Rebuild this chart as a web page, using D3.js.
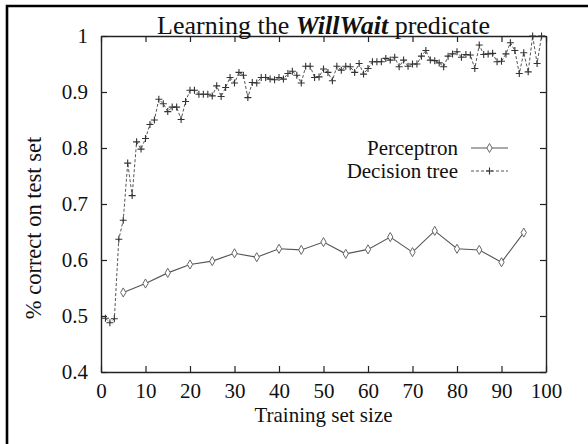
<!DOCTYPE html>
<html lang="en">
<head>
<meta charset="UTF-8">
<script src="https://cdn.jsdelivr.net/npm/d3@7"></script>
<title>Learning the WillWait predicate</title>
<style>
  body { margin: 0; background: #fff; }
  text { font-family: "Liberation Serif", "DejaVu Serif", serif; fill: #111; }
</style>
</head>
<body>
<script>
// training set sizes and accuracies
var percSizes = [5, 10, 15, 20, 25, 30, 35, 40, 45, 50, 55, 60, 65, 70, 75, 80, 85, 90, 95];
var percValues = [0.542, 0.558, 0.577, 0.592, 0.598, 0.612, 0.605, 0.620, 0.618, 0.632,
                  0.611, 0.619, 0.641, 0.614, 0.652, 0.620, 0.618, 0.596, 0.649];

var treeSizes = [1, 2, 3, 4, 5, 6, 7, 8, 9, 10, 11, 12, 13, 14, 15, 16, 17, 18, 19, 20,
                 21, 22, 23, 24, 25, 26, 27, 28, 29, 30, 31, 32, 33, 34, 35, 36, 37, 38, 39, 40,
                 41, 42, 43, 44, 45, 46, 47, 48, 49, 50, 51, 52, 53, 54, 55, 56, 57, 58, 59, 60,
                 61, 62, 63, 64, 65, 66, 67, 68, 69, 70, 71, 72, 73, 74, 75, 76, 77, 78, 79, 80,
                 81, 82, 83, 84, 85, 86, 87, 88, 89, 90, 91, 92, 93, 94, 95, 96, 97, 98, 99];
var treeValues = [0.496, 0.488, 0.495, 0.637, 0.671, 0.773, 0.715, 0.811, 0.798, 0.817,
                  0.842, 0.850, 0.887, 0.879, 0.865, 0.873, 0.873, 0.851, 0.883, 0.903,
                  0.903, 0.896, 0.896, 0.896, 0.893, 0.911, 0.892, 0.908, 0.926, 0.916,
                  0.935, 0.930, 0.890, 0.917, 0.916, 0.926, 0.926, 0.923, 0.922, 0.926,
                  0.923, 0.933, 0.937, 0.930, 0.916, 0.946, 0.946, 0.926, 0.927, 0.941,
                  0.935, 0.920, 0.946, 0.939, 0.946, 0.945, 0.935, 0.951, 0.932, 0.942,
                  0.954, 0.954, 0.954, 0.960, 0.957, 0.962, 0.945, 0.957, 0.946, 0.950,
                  0.950, 0.964, 0.974, 0.957, 0.956, 0.952, 0.945, 0.964, 0.968, 0.972,
                  0.962, 0.967, 0.966, 0.942, 0.984, 0.967, 0.968, 0.969, 0.954, 0.955,
                  0.968, 0.988, 0.974, 0.933, 0.970, 0.936, 1.000, 0.951, 1.000];

var xTicks = [0, 10, 20, 30, 40, 50, 60, 70, 80, 90, 100];
var yTicks = [0.4, 0.5, 0.6, 0.7, 0.8, 0.9, 1];
var seriesNames = ["Perceptron", "Decision tree"];

var w = 588, h = 444;
var plotL = 101, plotR = 546, plotT = 36, plotB = 372;

var svg = d3.select("body").append("svg")
    .attr("width", w)
    .attr("height", h);

// outer frame (only top and left edges show)
svg.append("path")
    .attr("d", "M7,446V6H590")
    .attr("fill", "none")
    .attr("stroke", "#000")
    .attr("stroke-width", 2.6);

var xScale = d3.scaleLinear().domain([0, 100]).range([plotL, plotR]);
var yScale = d3.scaleLinear().domain([0.4, 1]).range([plotB, plotT]);

function styleAxis(g) {
    g.select(".domain").attr("stroke", "#222").attr("stroke-width", 1.4);
    g.selectAll(".tick line").attr("stroke", "#222").attr("stroke-width", 1.2);
    g.selectAll(".tick text")
        .attr("font-family", "Liberation Serif")
        .attr("font-size", "21px")
        .attr("fill", "#111");
}

svg.append("g")
    .attr("transform", "translate(0," + plotB + ")")
    .call(d3.axisBottom(xScale).tickValues(xTicks).tickSize(-6).tickSizeOuter(0)
        .tickPadding(11).tickFormat(d3.format("d")))
    .call(styleAxis);

svg.append("g")
    .attr("transform", "translate(0," + plotT + ")")
    .call(d3.axisTop(xScale).tickValues(xTicks).tickSize(-6).tickSizeOuter(0).tickFormat(""))
    .call(styleAxis);

svg.append("g")
    .attr("transform", "translate(" + plotL + ",0)")
    .call(d3.axisLeft(yScale).tickValues(yTicks).tickSize(-6).tickSizeOuter(0)
        .tickPadding(13).tickFormat(function (d) { return d === 1 ? "1" : d3.format(".1f")(d); }))
    .call(styleAxis);

svg.append("g")
    .attr("transform", "translate(" + plotR + ",0)")
    .call(d3.axisRight(yScale).tickValues(yTicks).tickSize(-6).tickSizeOuter(0).tickFormat(""))
    .call(styleAxis);

// title
var title = svg.append("text")
    .attr("x", (plotL + plotR) / 2)
    .attr("y", 34)
    .attr("text-anchor", "middle")
    .attr("font-size", "26px");
title.append("tspan").text("Learning the ");
title.append("tspan").attr("font-weight", "bold").attr("font-style", "italic").text("WillWait");
title.append("tspan").text(" predicate");

// axis labels
svg.append("text")
    .attr("x", (plotL + plotR) / 2)
    .attr("y", 422)
    .attr("text-anchor", "middle")
    .attr("font-size", "21px")
    .text("Training set size");

svg.append("text")
    .attr("transform", "translate(41,228) rotate(-90)")
    .attr("text-anchor", "middle")
    .attr("font-size", "22.5px")
    .text("% correct on test set");

var perc = percSizes.map(function (s, i) { return [s, percValues[i]]; });
var tree = treeSizes.map(function (s, i) { return [s, treeValues[i]]; });

var line = d3.line()
    .x(function (d) { return xScale(d[0]); })
    .y(function (d) { return yScale(d[1]); });

svg.append("path")
    .datum(tree)
    .attr("d", line)
    .attr("fill", "none")
    .attr("stroke", "#555")
    .attr("stroke-width", 1)
    .attr("stroke-dasharray", "3,2");

svg.append("path")
    .datum(perc)
    .attr("d", line)
    .attr("fill", "none")
    .attr("stroke", "#555")
    .attr("stroke-width", 1.1);

var diamond = d3.symbol().type(d3.symbolDiamond).size(24);

function plus(x, y) {
    return "M" + (x - 3.5) + "," + y + "h7M" + x + "," + (y - 3.5) + "v7";
}

svg.selectAll(".pt-tree")
    .data(tree)
    .enter()
    .append("path")
    .attr("class", "pt-tree")
    .attr("d", function (d) { return plus(xScale(d[0]), yScale(d[1])); })
    .attr("stroke", "#333")
    .attr("stroke-width", 1.1);

svg.selectAll(".pt-perc")
    .data(perc)
    .enter()
    .append("path")
    .attr("class", "pt-perc")
    .attr("d", diamond)
    .attr("transform", function (d) { return "translate(" + xScale(d[0]) + "," + yScale(d[1]) + ")"; })
    .attr("fill", "#fff")
    .attr("stroke", "#666")
    .attr("stroke-width", 1);

// legend
var legend = svg.append("g");
var rows = [155, 178];
seriesNames.forEach(function (name, i) {
    legend.append("text")
        .attr("x", 458)
        .attr("y", rows[i])
        .attr("text-anchor", "end")
        .attr("font-size", "21px")
        .text(name);
    var ly = rows[i] - 7;
    legend.append("line")
        .attr("x1", 471).attr("x2", 508)
        .attr("y1", ly).attr("y2", ly)
        .attr("stroke", "#555")
        .attr("stroke-width", i === 0 ? 1.1 : 1)
        .attr("stroke-dasharray", i === 0 ? null : "3,2");
    if (i === 0) {
        legend.append("path")
            .attr("d", diamond)
            .attr("transform", "translate(489.5," + ly + ")")
            .attr("fill", "#fff")
            .attr("stroke", "#666");
    } else {
        legend.append("path")
            .attr("d", plus(489.5, ly))
            .attr("stroke", "#333")
            .attr("stroke-width", 1.1);
    }
});
</script>
</body>
</html>
